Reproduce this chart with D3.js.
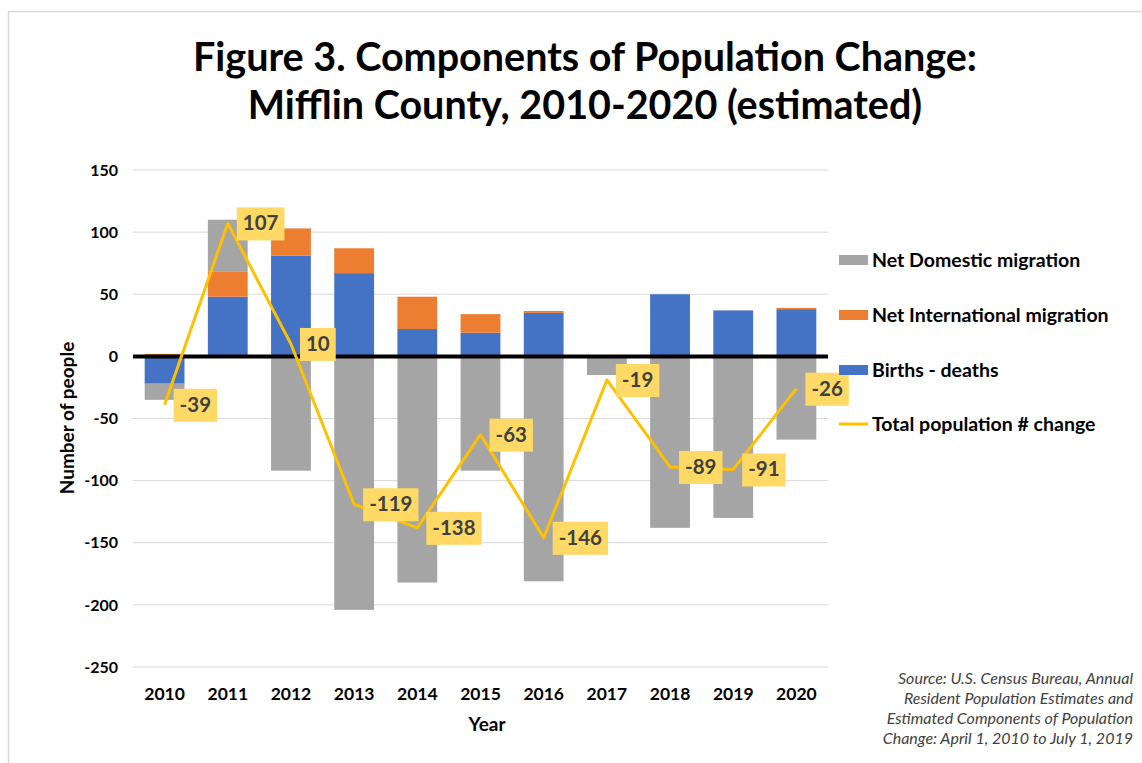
<!DOCTYPE html>
<html><head><meta charset="utf-8">
<script src="https://cdn.jsdelivr.net/npm/d3@7"></script>
<style>
html,body{margin:0;padding:0;background:#fff;}
svg{display:block;font-family:Lato, "Open Sans", sans-serif;}
</style></head>
<body><svg id="chart" width="1142" height="763"></svg>
<script>
const years = ["2010","2011","2012","2013","2014","2015","2016","2017","2018","2019","2020"];
const birthsDeaths = [-22, 48, 81, 67, 22, 19, 35, 0, 50, 37, 38];
const intlMigration = [2, 20, 22, 20, 26, 15, 1.5, 0, 0, 0, 1];
const domesticMigration = [-13, 42, -92, -204, -182, -92, -181, -15, -138, -130, -67];
const totalChange = [-39, 107, 10, -119, -138, -63, -146, -19, -89, -91, -26];
const yTicks = [150, 100, 50, 0, -50, -100, -150, -200, -250];
const seriesNames = ["Births - deaths", "Net International migration", "Net Domestic migration"];
const legendNames = ["Net Domestic migration", "Net International migration", "Births - deaths", "Total population # change"];
const titleLines = ["Figure 3. Components of Population Change:", "Mifflin County, 2010-2020 (estimated)"];
const sourceLines = ["Source: U.S. Census Bureau, Annual", "Resident Population Estimates and", "Estimated Components of Population", "Change: April 1, 2010 to July 1, 2019"];

const colors = {"Births - deaths":"#4472C4","Net International migration":"#ED7D31","Net Domestic migration":"#A5A5A5","Total population # change":"#FFC000"};

const svg = d3.select("#chart");
// outer border
svg.append("rect").attr("x",8.5).attr("y",11.5).attr("width",1150).attr("height",800)
  .attr("fill","none").attr("stroke","#d9d9d9").attr("stroke-width",1.5);

const plotL = 133, plotR = 828, plotT = 170, plotB = 667;
const x = d3.scaleBand().domain(years).range([plotL,plotR]).paddingInner(0.37).paddingOuter(0.185);
const y = d3.scaleLinear().domain([-250,150]).range([plotB,plotT]);

// title
svg.append("g").selectAll("text").data(titleLines).join("text")
  .attr("x",585).attr("y",(d,i)=>71+i*48).attr("text-anchor","middle")
  .attr("font-size",39.5).attr("font-weight",700).attr("fill","#000").text(d=>d);

// gridlines
svg.append("g").selectAll("line").data(yTicks.filter(t=>t!==0)).join("line")
  .attr("x1",plotL).attr("x2",plotR).attr("y1",d=>y(d)).attr("y2",d=>y(d))
  .attr("stroke","#d9d9d9").attr("stroke-width",1);

// y axis
const yAxis = d3.axisLeft(y).tickValues(yTicks).tickSize(0).tickPadding(15).tickFormat(d=>String(d));
const yg = svg.append("g").attr("transform",`translate(${plotL},0)`).call(yAxis);
yg.select(".domain").remove();
yg.selectAll("text").attr("font-size",16).attr("font-weight",700).attr("fill","#000").attr("font-family","Lato");

// x axis labels
const xAxis = d3.axisBottom(x).tickSize(0).tickPadding(0);
const xg = svg.append("g").attr("transform",`translate(0,${plotB+21})`).call(xAxis);
xg.select(".domain").remove();
xg.selectAll("text").attr("font-size",17.5).attr("font-weight",700).attr("fill","#000").attr("font-family","Lato");

// axis titles
svg.append("text").attr("transform","translate(74,418) rotate(-90)").attr("text-anchor","middle")
  .attr("font-size",19).attr("font-weight",700).text("Number of people");
svg.append("text").attr("x",487).attr("y",731).attr("text-anchor","middle")
  .attr("font-size",19).attr("font-weight",700).text("Year");

// stacked bars
const rows = years.map((yr,i)=>({year:yr, "Births - deaths":birthsDeaths[i], "Net International migration":intlMigration[i], "Net Domestic migration":domesticMigration[i]}));
const stacked = d3.stack().keys(seriesNames).offset(d3.stackOffsetDiverging)(rows);
svg.append("g").selectAll("g").data(stacked).join("g").attr("fill",d=>colors[d.key])
  .selectAll("rect").data(d=>d).join("rect")
  .attr("x",d=>x(d.data.year)).attr("width",x.bandwidth())
  .attr("y",d=>y(Math.max(d[0],d[1]))).attr("height",d=>Math.abs(y(d[0])-y(d[1])));

// zero line
svg.append("line").attr("x1",plotL).attr("x2",plotR).attr("y1",y(0)).attr("y2",y(0))
  .attr("stroke","#000").attr("stroke-width",4);

// total line
const line = d3.line().x((d,i)=>x(years[i])+x.bandwidth()/2).y(d=>y(d));
svg.append("path").datum(totalChange).attr("d",line).attr("fill","none")
  .attr("stroke",colors["Total population # change"]).attr("stroke-width",3).attr("stroke-linejoin","round");

// data labels
const lg = svg.append("g").selectAll("g").data(totalChange).join("g")
  .attr("transform",(d,i)=>`translate(${x(years[i])+x.bandwidth()/2+9},${y(d)})`);
lg.each(function(d){
  const g = d3.select(this);
  const t = g.append("text").attr("x",6).attr("y",7).attr("font-size",20.5).attr("font-weight",700)
    .attr("fill","#404040").text(d);
  const w = t.node().getComputedTextLength();
  g.insert("rect","text").attr("x",0).attr("y",-16).attr("width",w+12).attr("height",33).attr("fill","#FFD966");
});

// legend
const legY = [260, 315, 370, 424];
const leg = svg.append("g").selectAll("g").data(legendNames).join("g")
  .attr("transform",(d,i)=>`translate(839,${legY[i]})`);
leg.each(function(d){
  const g = d3.select(this);
  if (d === "Total population # change") {
    g.append("line").attr("x1",0).attr("x2",29).attr("y1",0).attr("y2",0).attr("stroke",colors[d]).attr("stroke-width",3);
  } else {
    g.append("rect").attr("x",0).attr("y",-5).attr("width",29).attr("height",10).attr("fill",colors[d]);
  }
  g.append("text").attr("x",33).attr("y",7).attr("font-size",19.5).attr("font-weight",700).attr("fill","#000").text(d);
});

// source
svg.append("g").selectAll("text").data(sourceLines).join("text")
  .attr("x",1133).attr("y",(d,i)=>684+i*20).attr("text-anchor","end")
  .attr("font-size",16).attr("font-style","italic").attr("fill","#404040").text(d=>d);
</script></body></html>
